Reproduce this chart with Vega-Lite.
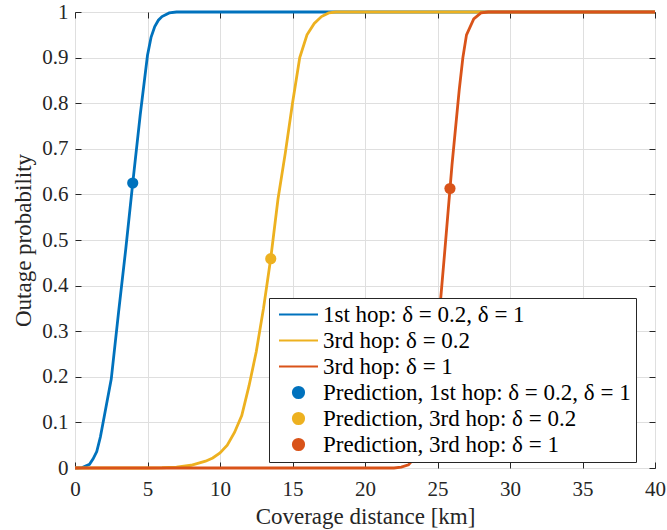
{
  "$schema": "https://vega.github.io/schema/vega-lite/v6.json",
  "autosize": {"type": "none"},
  "padding": {"left": 75, "top": 12, "right": 12, "bottom": 62},
  "width": 580,
  "height": 456,
  "background": "white",
  "config": {
    "view": {"stroke": "#262626", "strokeWidth": 1},
    "font": "Liberation Serif",
    "axis": {
      "domain": false,
      "grid": true,
      "gridColor": "#dfdfdf",
      "gridWidth": 1,
      "tickColor": "#262626",
      "tickSize": -6,
      "tickWidth": 1,
      "labelFont": "Liberation Serif",
      "labelFontSize": 21,
      "labelColor": "#262626",
      "titleFont": "Liberation Serif",
      "titleFontSize": 23,
      "titleFontWeight": "normal",
      "titleColor": "#262626"
    }
  },
  "datasets": {
    "curves": [
      {"x": 0, "y": 0, "series": "1st hop: δ = 0.2, δ = 1"},
      {"x": 0.5, "y": 0.001, "series": "1st hop: δ = 0.2, δ = 1"},
      {"x": 1.0, "y": 0.008, "series": "1st hop: δ = 0.2, δ = 1"},
      {"x": 1.25, "y": 0.02, "series": "1st hop: δ = 0.2, δ = 1"},
      {"x": 1.5, "y": 0.036, "series": "1st hop: δ = 0.2, δ = 1"},
      {"x": 1.75, "y": 0.068, "series": "1st hop: δ = 0.2, δ = 1"},
      {"x": 2.0, "y": 0.11, "series": "1st hop: δ = 0.2, δ = 1"},
      {"x": 2.5, "y": 0.195, "series": "1st hop: δ = 0.2, δ = 1"},
      {"x": 3.0, "y": 0.34, "series": "1st hop: δ = 0.2, δ = 1"},
      {"x": 3.5, "y": 0.48, "series": "1st hop: δ = 0.2, δ = 1"},
      {"x": 4.0, "y": 0.63, "series": "1st hop: δ = 0.2, δ = 1"},
      {"x": 4.5, "y": 0.775, "series": "1st hop: δ = 0.2, δ = 1"},
      {"x": 5.0, "y": 0.905, "series": "1st hop: δ = 0.2, δ = 1"},
      {"x": 5.25, "y": 0.945, "series": "1st hop: δ = 0.2, δ = 1"},
      {"x": 5.5, "y": 0.968, "series": "1st hop: δ = 0.2, δ = 1"},
      {"x": 5.75, "y": 0.982, "series": "1st hop: δ = 0.2, δ = 1"},
      {"x": 6.0, "y": 0.99, "series": "1st hop: δ = 0.2, δ = 1"},
      {"x": 6.5, "y": 0.998, "series": "1st hop: δ = 0.2, δ = 1"},
      {"x": 7.0, "y": 1, "series": "1st hop: δ = 0.2, δ = 1"},
      {"x": 40, "y": 1, "series": "1st hop: δ = 0.2, δ = 1"},

      {"x": 0, "y": 0, "series": "3rd hop: δ = 0.2"},
      {"x": 5, "y": 0, "series": "3rd hop: δ = 0.2"},
      {"x": 6, "y": 0.0005, "series": "3rd hop: δ = 0.2"},
      {"x": 7, "y": 0.002, "series": "3rd hop: δ = 0.2"},
      {"x": 8, "y": 0.006, "series": "3rd hop: δ = 0.2"},
      {"x": 9, "y": 0.015, "series": "3rd hop: δ = 0.2"},
      {"x": 9.5, "y": 0.022, "series": "3rd hop: δ = 0.2"},
      {"x": 10, "y": 0.033, "series": "3rd hop: δ = 0.2"},
      {"x": 10.5, "y": 0.05, "series": "3rd hop: δ = 0.2"},
      {"x": 11, "y": 0.078, "series": "3rd hop: δ = 0.2"},
      {"x": 11.5, "y": 0.115, "series": "3rd hop: δ = 0.2"},
      {"x": 12, "y": 0.18, "series": "3rd hop: δ = 0.2"},
      {"x": 12.5, "y": 0.255, "series": "3rd hop: δ = 0.2"},
      {"x": 13, "y": 0.35, "series": "3rd hop: δ = 0.2"},
      {"x": 13.5, "y": 0.46, "series": "3rd hop: δ = 0.2"},
      {"x": 14, "y": 0.59, "series": "3rd hop: δ = 0.2"},
      {"x": 14.5, "y": 0.69, "series": "3rd hop: δ = 0.2"},
      {"x": 15, "y": 0.8, "series": "3rd hop: δ = 0.2"},
      {"x": 15.5, "y": 0.9, "series": "3rd hop: δ = 0.2"},
      {"x": 16, "y": 0.95, "series": "3rd hop: δ = 0.2"},
      {"x": 16.5, "y": 0.975, "series": "3rd hop: δ = 0.2"},
      {"x": 17, "y": 0.99, "series": "3rd hop: δ = 0.2"},
      {"x": 17.5, "y": 0.998, "series": "3rd hop: δ = 0.2"},
      {"x": 18, "y": 1, "series": "3rd hop: δ = 0.2"},
      {"x": 40, "y": 1, "series": "3rd hop: δ = 0.2"},

      {"x": 0, "y": 0, "series": "3rd hop: δ = 1"},
      {"x": 22, "y": 0, "series": "3rd hop: δ = 1"},
      {"x": 22.5, "y": 0.002, "series": "3rd hop: δ = 1"},
      {"x": 23, "y": 0.007, "series": "3rd hop: δ = 1"},
      {"x": 23.5, "y": 0.025, "series": "3rd hop: δ = 1"},
      {"x": 24, "y": 0.07, "series": "3rd hop: δ = 1"},
      {"x": 24.5, "y": 0.16, "series": "3rd hop: δ = 1"},
      {"x": 25, "y": 0.29, "series": "3rd hop: δ = 1"},
      {"x": 25.5, "y": 0.475, "series": "3rd hop: δ = 1"},
      {"x": 26, "y": 0.665, "series": "3rd hop: δ = 1"},
      {"x": 26.5, "y": 0.83, "series": "3rd hop: δ = 1"},
      {"x": 26.75, "y": 0.9, "series": "3rd hop: δ = 1"},
      {"x": 27, "y": 0.95, "series": "3rd hop: δ = 1"},
      {"x": 27.5, "y": 0.985, "series": "3rd hop: δ = 1"},
      {"x": 28, "y": 0.998, "series": "3rd hop: δ = 1"},
      {"x": 28.5, "y": 1, "series": "3rd hop: δ = 1"},
      {"x": 40, "y": 1, "series": "3rd hop: δ = 1"}
    ],
    "predictions": [
      {"x": 3.98, "y": 0.625, "series": "Prediction, 1st hop: δ = 0.2, δ = 1"},
      {"x": 13.5, "y": 0.459, "series": "Prediction, 3rd hop: δ = 0.2"},
      {"x": 25.86, "y": 0.613, "series": "Prediction, 3rd hop: δ = 1"}
    ]
  },
  "layer": [
    {
      "data": {"name": "curves"},
      "mark": {"type": "line", "strokeWidth": 2.8, "clip": false},
      "encoding": {
        "x": {
          "field": "x", "type": "quantitative",
          "scale": {"domain": [0, 40], "nice": false, "zero": false},
          "axis": {
            "orient": "bottom",
            "title": "Coverage distance [km]",
            "values": [0, 5, 10, 15, 20, 25, 30, 35, 40],
            "labelPadding": 16,
            "labelFlush": false,
            "titleBaseline": "alphabetic",
            "titleY": 55
          }
        },
        "y": {
          "field": "y", "type": "quantitative",
          "scale": {"domain": [0, 1], "nice": false},
          "axis": {
            "orient": "left",
            "title": "Outage probability",
            "values": [0, 0.1, 0.2, 0.3, 0.4, 0.5, 0.6, 0.7, 0.8, 0.9, 1],
            "format": "~g",
            "labelPadding": 13,
            "labelFlush": false,
            "titleBaseline": "alphabetic",
            "titleX": -45
          }
        },
        "color": {
          "field": "series", "type": "nominal",
          "scale": {
            "domain": [
              "1st hop: δ = 0.2, δ = 1",
              "3rd hop: δ = 0.2",
              "3rd hop: δ = 1",
              "Prediction, 1st hop: δ = 0.2, δ = 1",
              "Prediction, 3rd hop: δ = 0.2",
              "Prediction, 3rd hop: δ = 1"
            ],
            "range": ["#0072BD", "#EDB120", "#D95319", "#0072BD", "#EDB120", "#D95319"]
          },
          "legend": {
            "title": null,
            "orient": "none",
            "legendX": 194,
            "legendY": 286,
            "direction": "vertical",
            "fillColor": "white",
            "strokeColor": "#262626",
            "cornerRadius": 0,
            "padding": 5,
            "labelFont": "Liberation Serif",
            "labelFontSize": 23,
            "labelColor": "#000000",
            "labelLimit": 0,
            "labelOffset": 4,
            "symbolOffset": 4,
            "symbolStrokeWidth": 2,
            "clipHeight": 23,
            "rowPadding": 2
          }
        }
      }
    },
    {
      "data": {"name": "predictions"},
      "mark": {"type": "point", "filled": true, "opacity": 1},
      "encoding": {
        "x": {
          "field": "x", "type": "quantitative",
          "axis": {
            "orient": "top", "title": null, "labels": false, "grid": false,
            "values": [0, 5, 10, 15, 20, 25, 30, 35, 40]
          }
        },
        "y": {
          "field": "y", "type": "quantitative",
          "axis": {
            "orient": "right", "title": null, "labels": false, "grid": false,
            "values": [0, 0.1, 0.2, 0.3, 0.4, 0.5, 0.6, 0.7, 0.8, 0.9, 1]
          }
        },
        "color": {"field": "series", "type": "nominal"},
        "shape": {
          "field": "series", "type": "nominal",
          "scale": {
            "domain": [
              "1st hop: δ = 0.2, δ = 1",
              "3rd hop: δ = 0.2",
              "3rd hop: δ = 1",
              "Prediction, 1st hop: δ = 0.2, δ = 1",
              "Prediction, 3rd hop: δ = 0.2",
              "Prediction, 3rd hop: δ = 1"
            ],
            "range": ["stroke", "stroke", "stroke", "circle", "circle", "circle"]
          }
        },
        "size": {
          "field": "series", "type": "nominal",
          "scale": {
            "type": "ordinal",
            "domain": [
              "1st hop: δ = 0.2, δ = 1",
              "3rd hop: δ = 0.2",
              "3rd hop: δ = 1",
              "Prediction, 1st hop: δ = 0.2, δ = 1",
              "Prediction, 3rd hop: δ = 0.2",
              "Prediction, 3rd hop: δ = 1"
            ],
            "range": [1521, 1521, 1521, 125, 125, 125]
          }
        }
      }
    }
  ],
  "resolve": {"axis": {"x": "independent", "y": "independent"}}
}
